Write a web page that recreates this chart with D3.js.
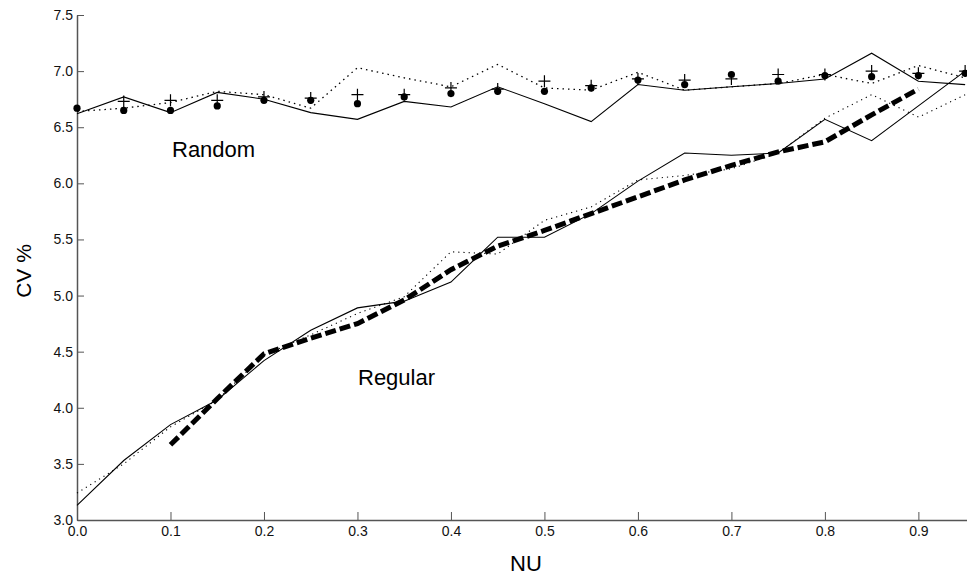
<!DOCTYPE html>
<html>
<head>
<meta charset="utf-8">
<script src="https://cdn.jsdelivr.net/npm/d3@7"></script>
<style>
  body { margin: 0; background: #fff; }
  svg { display: block; font-family: "Liberation Sans", Arial, sans-serif; }
  .axis path, .axis line { stroke: #555; }
</style>
</head>
<body>
<svg width="967" height="577"></svg>
<script>
// NU values along the x axis
const nu = [0, 0.05, 0.1, 0.15, 0.2, 0.25, 0.3, 0.35, 0.4, 0.45, 0.5, 0.55, 0.6, 0.65, 0.7, 0.75, 0.8, 0.85, 0.9, 0.95];

// Random pattern
const randomSolid = [6.62, 6.77, 6.63, 6.81, 6.75, 6.63, 6.57, 6.73, 6.68, 6.86, 6.71, 6.55, 6.88, 6.83, 6.86, 6.89, 6.93, 7.16, 6.91, 6.88];
const randomDotted = [6.64, 6.67, 6.72, 6.82, 6.79, 6.67, 7.03, 6.94, 6.86, 7.06, 6.85, 6.83, 6.99, 6.83, 6.86, 6.89, 6.97, 6.89, 7.05, 6.94];
const randomPlusNu = nu.slice(1);
const randomPlus = [6.73, 6.74, 6.74, 6.77, 6.76, 6.79, 6.79, 6.85, 6.84, 6.91, 6.87, 6.93, 6.92, 6.93, 6.97, 6.97, 7.00, 6.98, 7.00];
const randomDot = [6.67, 6.65, 6.65, 6.69, 6.74, 6.74, 6.71, 6.77, 6.80, 6.82, 6.82, 6.85, 6.92, 6.88, 6.97, 6.91, 6.96, 6.95, 6.96, 6.98];

// Regular pattern
const regularSolid = [3.13, 3.53, 3.85, 4.07, 4.42, 4.69, 4.89, 4.95, 5.12, 5.52, 5.52, 5.73, 6.02, 6.27, 6.25, 6.27, 6.57, 6.38, 6.69, 7.00];
const regularDotted = [3.24, 3.50, 3.83, 4.07, 4.47, 4.65, 4.84, 4.99, 5.39, 5.37, 5.67, 5.79, 6.03, 6.07, 6.13, 6.27, 6.58, 6.79, 6.59, 6.79];
const regularDashedNu = nu.slice(2, 19);
const regularDashed = [3.67, 4.08, 4.48, 4.62, 4.75, 4.96, 5.23, 5.44, 5.58, 5.73, 5.88, 6.03, 6.16, 6.28, 6.37, 6.61, 6.84];

const xTicks = [0, 0.1, 0.2, 0.3, 0.4, 0.5, 0.6, 0.7, 0.8, 0.9];
const yTicks = [3.0, 3.5, 4.0, 4.5, 5.0, 5.5, 6.0, 6.5, 7.0, 7.5];

const svg = d3.select("svg");
const margin = { top: 15, right: 0, bottom: 57, left: 77 };
const width = 967, height = 577;

const x = d3.scaleLinear().domain([0, 0.952]).range([margin.left, width - margin.right]);
const y = d3.scaleLinear().domain([3, 7.5]).range([height - margin.bottom, margin.top]);

// axes (ticks point inward)
svg.append("g")
  .attr("class", "axis")
  .attr("transform", `translate(0,${height - margin.bottom})`)
  .call(d3.axisBottom(x).tickValues(xTicks).tickFormat(d3.format(".1f")).tickSizeInner(-8).tickSizeOuter(0).tickPadding(6))
  .attr("font-size", 14)
  .attr("font-family", "Liberation Sans, Arial, sans-serif")
  .call(g => g.select(".domain").attr("stroke-width", 1.5))
  .call(g => g.selectAll("text").attr("fill", "#111"));

svg.append("g")
  .attr("class", "axis")
  .attr("transform", `translate(${margin.left},0)`)
  .call(d3.axisLeft(y).tickValues(yTicks).tickFormat(d3.format(".1f")).tickSizeInner(-7).tickSizeOuter(0).tickPadding(4))
  .attr("font-size", 14)
  .attr("font-family", "Liberation Sans, Arial, sans-serif")
  .call(g => g.select(".domain").attr("stroke-width", 1.5))
  .call(g => g.selectAll("text").attr("fill", "#111"));

function drawLine(xs, ys, dash, w) {
  const line = d3.line().x((d, i) => x(xs[i])).y(d => y(d));
  svg.append("path")
    .datum(ys)
    .attr("fill", "none")
    .attr("stroke", "#000")
    .attr("stroke-width", w)
    .attr("stroke-dasharray", dash)
    .attr("d", line);
}

drawLine(nu, randomSolid, null, 1.1);
drawLine(nu, randomDotted, "1.5,4", 1.3);
drawLine(nu, regularSolid, null, 1.1);
drawLine(nu, regularDotted, "1.2,4", 1.1);
drawLine(regularDashedNu, regularDashed, "11,4", 5);

// plus markers
svg.append("g").selectAll("path")
  .data(randomPlus)
  .enter().append("path")
  .attr("d", (d, i) => {
    const cx = x(randomPlusNu[i]), cy = y(d);
    return `M${cx - 6},${cy}H${cx + 6}M${cx},${cy - 6}V${cy + 6}`;
  })
  .attr("stroke", "#000")
  .attr("stroke-width", 1.2);

// dot markers
svg.append("g").selectAll("circle")
  .data(randomDot)
  .enter().append("circle")
  .attr("cx", (d, i) => x(nu[i]))
  .attr("cy", d => y(d))
  .attr("r", 3.6)
  .attr("fill", "#000");

// series labels
svg.append("text").attr("x", 172).attr("y", 157).attr("font-size", 22).text("Random");
svg.append("text").attr("x", 358).attr("y", 385).attr("font-size", 22).text("Regular");

// axis titles
svg.append("text")
  .attr("x", (margin.left + width) / 2 + 4)
  .attr("y", 571)
  .attr("text-anchor", "middle")
  .attr("font-size", 22)
  .text("NU");

svg.append("text")
  .attr("transform", "translate(31,271) rotate(-90)")
  .attr("text-anchor", "middle")
  .attr("font-size", 21)
  .text("CV %");
</script>
</body>
</html>
